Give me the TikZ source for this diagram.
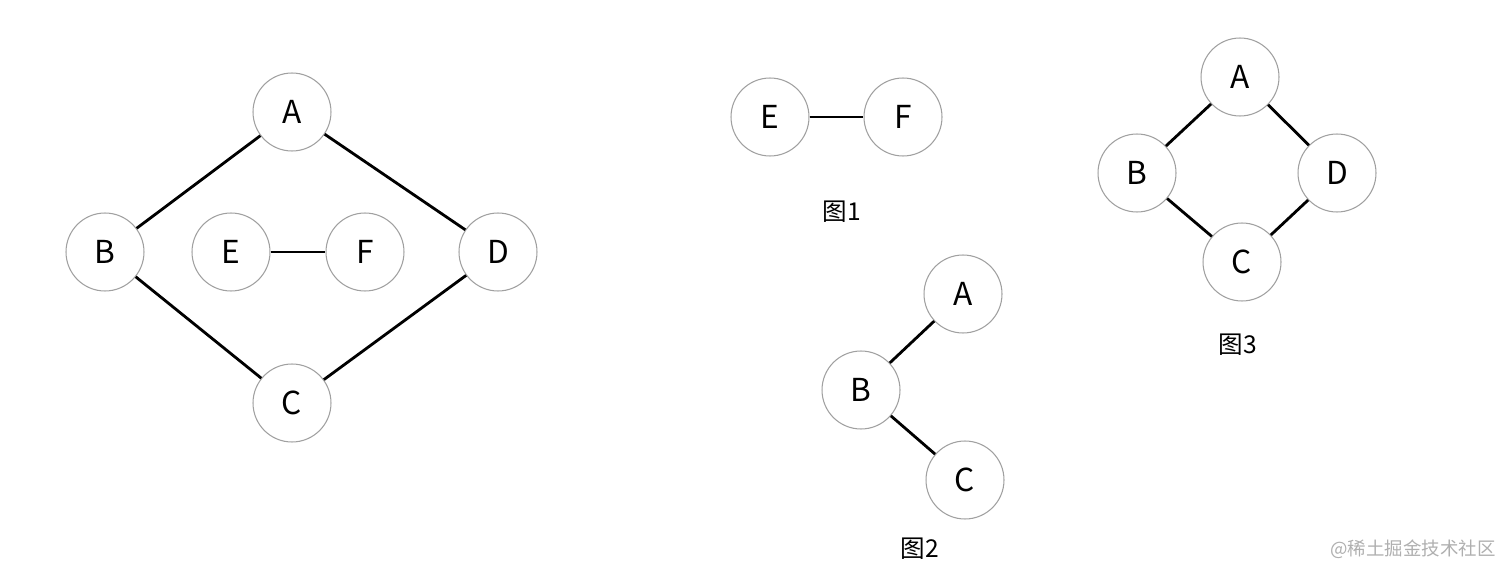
\documentclass[tikz,border=0pt]{standalone}
\usepackage{fontspec}
\setmainfont{Noto Sans CJK SC}
\usetikzlibrary{positioning}
\definecolor{ringcolor}{RGB}{160, 160, 160}
\definecolor{stampcolor}{RGB}{175, 175, 175}
\tikzset{
  vertex/.style={circle, minimum size=1.56cm, inner sep=0pt, draw=ringcolor, line width=0.6pt, fill=white, font=\fontsize{18}{20}\selectfont},
  link/.style={line width=1.6pt, color=black},
  caption/.style={font=\fontsize{14}{16}\selectfont},
  stamp/.style={font=\fontsize{10.5}{12}\selectfont, text=stampcolor}
}
\begin{document}
\begin{tikzpicture}[x=0.02cm, y=-0.02cm]

  \useasboundingbox (0,0) rectangle (1512,581);

  % full graph
  \node[vertex] (a) at (292,112) {A};
  \node[vertex] (b) at (105,252) {B};
  \node[vertex] (e) at (231,252) {E};
  \node[vertex] (f) at (365,252) {F};
  \node[vertex] (d) at (498,252) {D};
  \node[vertex] (c) at (292,403) {C};

  \draw[link] (a) -- (b);
  \draw[link] (a) -- (d);
  \draw[link] (b) -- (c);
  \draw[link] (d) -- (c);
  \draw[link] (e) -- (f);

  % part 1
  \node[vertex] (e1) at (770,117) {E};
  \node[vertex] (f1) at (903,117) {F};
  \draw[link] (e1) -- (f1);
  \node[caption] (cap1) at (842,212) {图1};

  % part 2
  \node[vertex] (a2) at (963,294) {A};
  \node[vertex] (b2) at (861,390) {B};
  \node[vertex] (c2) at (965,480) {C};
  \draw[link] (b2) -- (a2);
  \draw[link] (b2) -- (c2);
  \node[caption] (cap2) at (920,549) {图2};

  % part 3
  \node[vertex] (a3) at (1240,77) {A};
  \node[vertex] (b3) at (1137,173) {B};
  \node[vertex] (d3) at (1337,173) {D};
  \node[vertex] (c3) at (1242,262) {C};
  \draw[link] (a3) -- (b3);
  \draw[link] (a3) -- (d3);
  \draw[link] (b3) -- (c3);
  \draw[link] (d3) -- (c3);
  \node[caption] (cap3) at (1238,345) {图3};

  \node[stamp] (site) at (1413,549) {@稀土掘金技术社区};

\end{tikzpicture}
\end{document}
